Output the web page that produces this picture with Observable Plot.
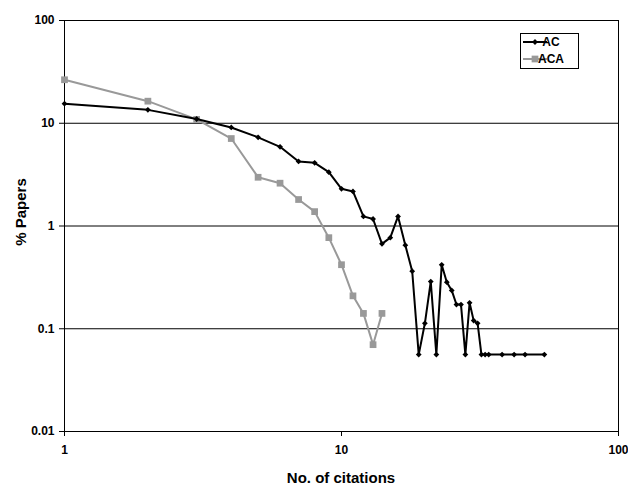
<!DOCTYPE html>
<html><head><meta charset="utf-8">
<script src="https://cdn.jsdelivr.net/npm/d3@7"></script>
<script src="https://cdn.jsdelivr.net/npm/@observablehq/plot@0.6"></script>
<style>
body{margin:0;background:#fff}
svg{font-family:"Liberation Sans",Arial,Helvetica,sans-serif}
</style>
</head><body><div id="chart"></div>
<script>
// Data
const acX = [1,2,3,4,5,6,7,8,9,10,11,12,13,14,15,16,17,18,19,20,21,22,23,24,25,26,27,28,29,30,31,32,33,34,38,42,46,54];
const acY = [15.5,13.5,11.0,9.1,7.3,5.9,4.25,4.12,3.34,2.30,2.17,1.24,1.17,0.67,0.77,1.24,0.65,0.363,0.056,0.113,0.288,0.056,0.419,0.284,0.236,0.172,0.172,0.056,0.179,0.120,0.113,0.056,0.056,0.056,0.056,0.056,0.056,0.056];
const acaX = [1,2,3,4,5,6,7,8,9,10,11,12,13,14];
const acaY = [26.5,16.4,10.9,7.1,2.98,2.61,1.81,1.38,0.77,0.42,0.209,0.141,0.070,0.141];
const xTicks = [1,10,100];
const yTicks = [0.01,0.1,1,10,100];
const gridY = [0.1,1,10];
const seriesNames = ["AC","ACA"];
const xTitle = "No. of citations";
const yTitle = "% Papers";

const ac = acX.map((x,i)=>({x, y: acY[i]}));
const aca = acaX.map((x,i)=>({x, y: acaY[i]}));

const acColor = "#000000", acaColor = "#999999";

const plot = Plot.plot({
  width: 628, height: 486,
  marginLeft: 64, marginRight: 10, marginTop: 20, marginBottom: 55,
  style: {fontSize: "12px", color: "#000", background: "#fff"},
  x: {type: "log", domain: [1,100]},
  y: {type: "log", domain: [0.01,100]},
  marks: [
    Plot.ruleY(gridY, {stroke: "#000", strokeWidth: 1}),
    Plot.frame({stroke: "#000", strokeWidth: 1}),
    Plot.axisX({ticks: xTicks, tickSize: 5, tickPadding: 9, tickFormat: d => String(d), label: null, fontWeight: "bold", fontSize: 12}),
    Plot.axisY({ticks: yTicks, tickSize: 5, tickPadding: 5, tickFormat: d => String(d), label: null, fontWeight: "bold", fontSize: 12}),
    Plot.line(aca, {x: "x", y: "y", stroke: acaColor, strokeWidth: 2}),
    Plot.dot(aca, {x: "x", y: "y", symbol: "square", r: 3.8, fill: acaColor, stroke: "none"}),
    Plot.line(ac, {x: "x", y: "y", stroke: acColor, strokeWidth: 2}),
    Plot.dot(ac, {x: "x", y: "y", symbol: "diamond2", r: 2.6, fill: acColor, stroke: "none"})
  ]
});
document.getElementById("chart").appendChild(plot);

const svg = d3.select(plot);
// Axis titles
svg.append("text").attr("x", 341).attr("y", 483).attr("text-anchor", "middle")
  .attr("font-size", 15).attr("font-weight", "bold").attr("fill", "#000").text(xTitle);
svg.append("text").attr("transform", "translate(26,212) rotate(-90)").attr("text-anchor", "middle")
  .attr("font-size", 15).attr("font-weight", "bold").attr("fill", "#000").text(yTitle);

// Legend
const lg = svg.append("g");
lg.append("rect").attr("x", 520.5).attr("y", 33.5).attr("width", 58).attr("height", 35)
  .attr("fill", "#fff").attr("stroke", "#000");
const rows = [{name: seriesNames[0], color: acColor, sym: d3.symbolDiamond2, size: 2.6*2.6*Math.PI, y: 42},
              {name: seriesNames[1], color: acaColor, sym: d3.symbolSquare, size: 3.8*3.8*Math.PI, y: 59}];
rows.forEach(r => {
  lg.append("line").attr("x1", 523).attr("x2", 547).attr("y1", r.y).attr("y2", r.y)
    .attr("stroke", r.color).attr("stroke-width", 2);
  lg.append("path").attr("d", d3.symbol(r.sym, r.size)()).attr("transform", `translate(535,${r.y})`).attr("fill", r.color);
  lg.append("text").attr("x", 551).attr("y", r.y).attr("dy", "0.35em").attr("font-size", 12)
    .attr("font-weight", "bold").attr("fill", "#000").text(r.name);
});
</script>
</body></html>
